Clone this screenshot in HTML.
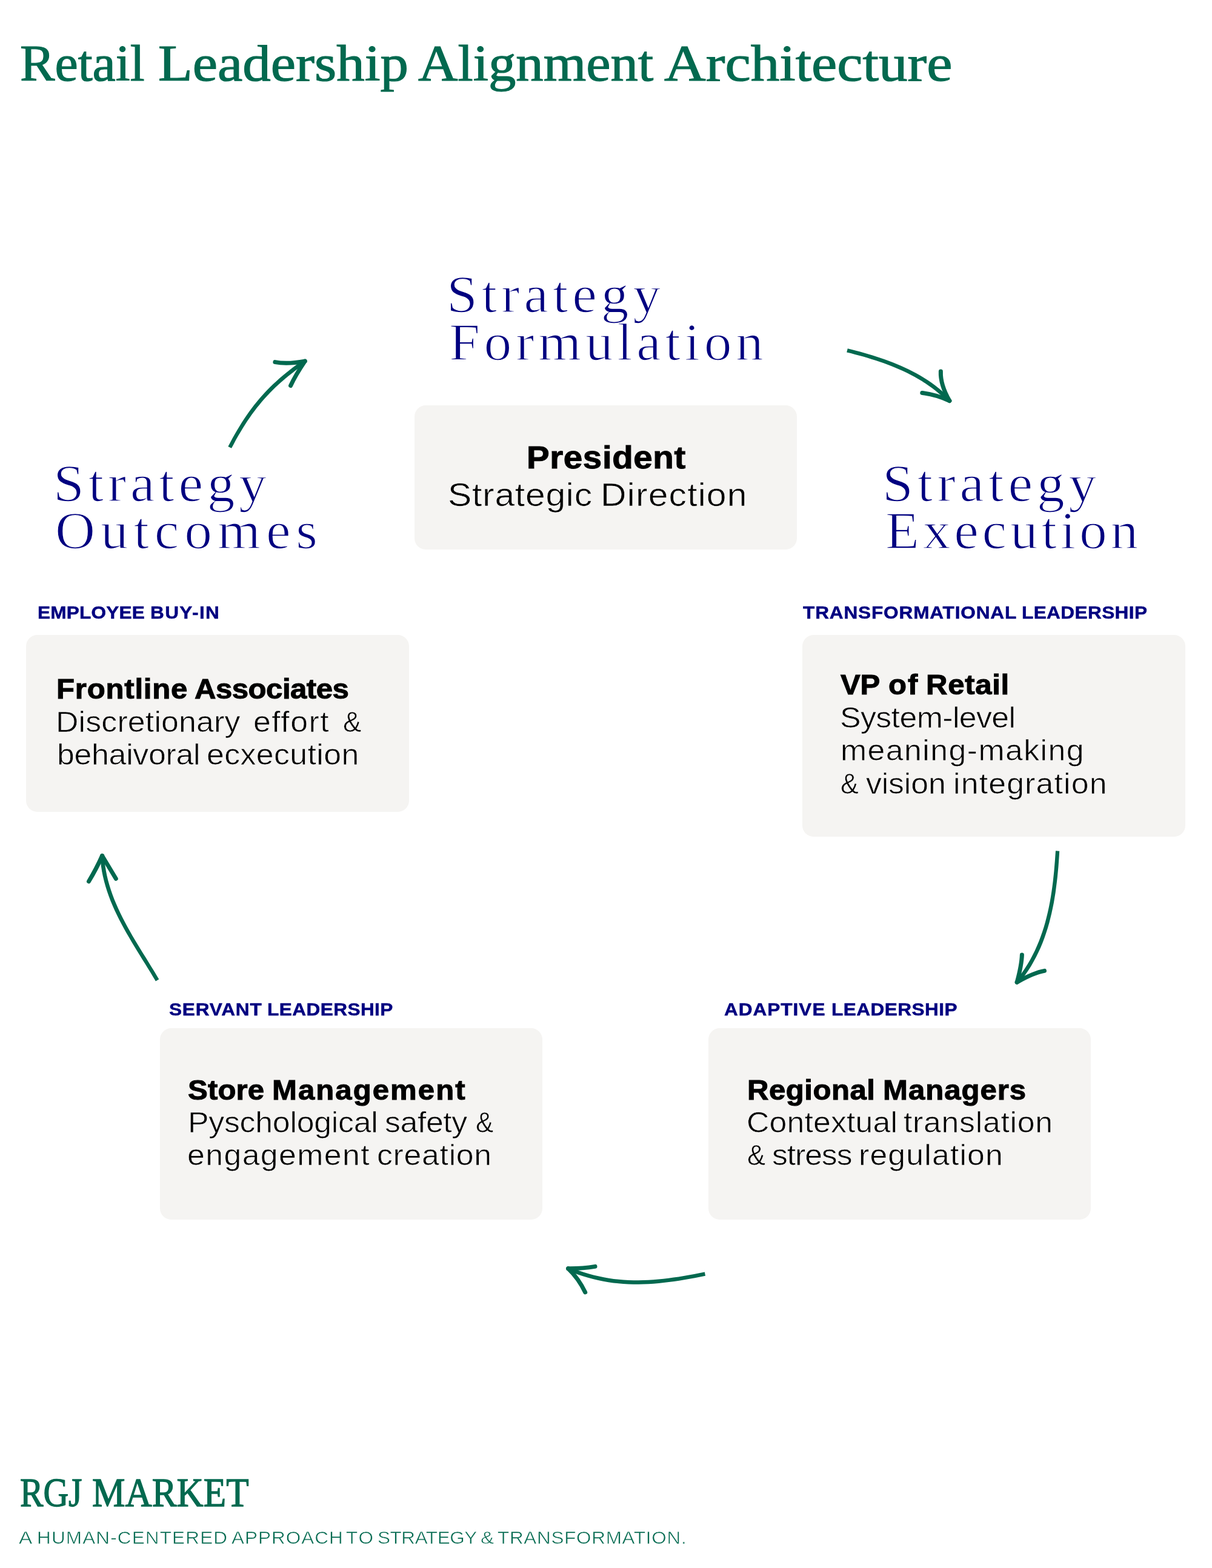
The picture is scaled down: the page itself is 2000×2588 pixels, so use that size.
<!DOCTYPE html>
<html lang="en">
<head>
<meta charset="utf-8">
<title>Retail Leadership Alignment Architecture</title>
<style>
*{margin:0;padding:0;box-sizing:border-box}
html,body{width:2000px;height:2588px;background:#fff}
body{position:relative;font-family:"Liberation Sans",sans-serif;color:#000}
.page{position:absolute;left:0;top:0;width:2000px;height:2588px;background:#fff;overflow:hidden;will-change:transform}
h1,h2,h3,p,.ln{font-weight:400;font-size:0;line-height:0}
.w{position:absolute;display:block;white-space:pre;transform-origin:0 0}
.serif{font-family:"Liberation Serif",serif}
.sans{font-family:"Liberation Sans",sans-serif}
.b .w{font-weight:700}
.green{color:#02694f}.navy{color:#000080}.black{color:#000000}
.box{position:absolute;background:#f5f4f2;border-radius:18.5px}
svg.arrows{position:absolute;left:0;top:0;width:2000px;height:2588px;pointer-events:none}
svg.arrows .shaft{fill:#02694f;stroke:none}
svg.arrows .barb{fill:none;stroke:#02694f;stroke-width:7.0;stroke-linecap:round;stroke-linejoin:round}
#bx-p{left:684.0px;top:668.8px;width:631.4px;height:238.2px}
#bx-f{left:43.3px;top:1047.6px;width:631.8px;height:292.0px}
#bx-v{left:1324.3px;top:1047.6px;width:631.7px;height:333.7px}
#bx-s{left:263.8px;top:1696.7px;width:631.4px;height:316.3px}
#bx-r{left:1168.9px;top:1696.7px;width:631.4px;height:316.3px}
#title .w{font-size:84.15px;line-height:101px;-webkit-text-stroke:1.2px #02694f;}
#titlew1{left:33.2px;top:54px;transform:scaleX(1.0233);}
#titlew2{left:260.6px;top:54px;transform:scaleX(1.1049);}
#titlew3{left:690.2px;top:54px;transform:scaleX(1.0784);}
#titlew4{left:1096.0px;top:54px;transform:scaleX(1.1309);}
#sf1 .w{font-size:86.44px;line-height:104px;-webkit-text-stroke:1.6px #ffffff;}
#sf1w1{left:736.5px;top:434px;letter-spacing:6.46px;transform:scaleX(1.0600);}
#sf2 .w{font-size:86.44px;line-height:104px;-webkit-text-stroke:1.6px #ffffff;}
#sf2w1{left:741.3px;top:513px;letter-spacing:6.21px;transform:scaleX(1.0600);}
#so1 .w{font-size:86.44px;line-height:104px;-webkit-text-stroke:1.6px #ffffff;}
#so1w1{left:87.7px;top:746px;letter-spacing:6.30px;transform:scaleX(1.0600);}
#so2 .w{font-size:86.44px;line-height:104px;-webkit-text-stroke:1.6px #ffffff;}
#so2w1{left:91.3px;top:824px;letter-spacing:8.29px;transform:scaleX(1.0600);}
#se1 .w{font-size:86.44px;line-height:104px;-webkit-text-stroke:1.6px #ffffff;}
#se1w1{left:1455.9px;top:746px;letter-spacing:6.48px;transform:scaleX(1.0600);}
#se2 .w{font-size:86.44px;line-height:104px;-webkit-text-stroke:1.6px #ffffff;}
#se2w1{left:1460.8px;top:824px;letter-spacing:5.40px;transform:scaleX(1.0600);}
#l1 .w{font-size:29.22px;line-height:35px;-webkit-text-stroke:0.5px #000080;}
#l1w1{left:61.5px;top:994px;letter-spacing:0.18px;transform:scaleX(1.0800);}
#l1w2{left:247.8px;top:994px;letter-spacing:1.27px;transform:scaleX(1.0800);}
#l2 .w{font-size:29.22px;line-height:35px;-webkit-text-stroke:0.5px #000080;}
#l2w1{left:1324.7px;top:994px;letter-spacing:0.79px;transform:scaleX(1.0800);}
#l2w2{left:1685.7px;top:994px;letter-spacing:0.37px;transform:scaleX(1.0800);}
#l3 .w{font-size:29.22px;line-height:35px;-webkit-text-stroke:0.5px #000080;}
#l3w1{left:279.2px;top:1649px;letter-spacing:0.74px;transform:scaleX(1.0800);}
#l3w2{left:440.7px;top:1649px;letter-spacing:0.41px;transform:scaleX(1.0800);}
#l4 .w{font-size:29.22px;line-height:35px;-webkit-text-stroke:0.5px #000080;}
#l4w1{left:1195.0px;top:1649px;letter-spacing:0.91px;transform:scaleX(1.0800);}
#l4w2{left:1371.6px;top:1649px;letter-spacing:0.43px;transform:scaleX(1.0800);}
#p1 .w{font-size:52.33px;line-height:63px;-webkit-text-stroke:1px #000000;}
#p1w1{left:868.5px;top:724px;letter-spacing:0.54px;transform:scaleX(1.0800);}
#p2 .w{font-size:54.51px;line-height:65px;-webkit-text-stroke:0.7px #f5f4f2;}
#p2w1{left:739.2px;top:784px;letter-spacing:0.67px;transform:scaleX(1.0800);}
#p2w2{left:991.3px;top:784px;letter-spacing:1.07px;transform:scaleX(1.0800);}
#f1 .w{font-size:45.49px;line-height:55px;-webkit-text-stroke:1px #000000;}
#f1w1{left:92.8px;top:1110px;letter-spacing:0.73px;transform:scaleX(1.0800);}
#f1w2{left:320.9px;top:1110px;letter-spacing:-0.47px;transform:scaleX(1.0800);}
#f2 .w{font-size:47.97px;line-height:58px;-webkit-text-stroke:0.7px #f5f4f2;}
#f2w1{left:92.0px;top:1163px;letter-spacing:0.16px;transform:scaleX(1.0800);}
#f2w2{left:417.6px;top:1163px;letter-spacing:1.40px;transform:scaleX(1.0800);}
#f2w3{left:566.3px;top:1163px;transform:scaleX(0.9512);}
#f3 .w{font-size:47.97px;line-height:58px;-webkit-text-stroke:0.7px #f5f4f2;}
#f3w1{left:93.6px;top:1217px;letter-spacing:-0.26px;transform:scaleX(1.0800);}
#f3w2{left:340.5px;top:1217px;letter-spacing:0.37px;transform:scaleX(1.0800);}
#v1 .w{font-size:45.49px;line-height:55px;-webkit-text-stroke:1px #000000;}
#v1w1{left:1387.3px;top:1103px;letter-spacing:-0.28px;transform:scaleX(1.0800);}
#v1w2{left:1466.3px;top:1103px;letter-spacing:1.88px;transform:scaleX(1.0800);}
#v1w3{left:1527.7px;top:1103px;letter-spacing:0.62px;transform:scaleX(1.0800);}
#v2 .w{font-size:47.97px;line-height:58px;-webkit-text-stroke:0.7px #f5f4f2;}
#v2w1{left:1385.7px;top:1156px;letter-spacing:-0.54px;transform:scaleX(1.0800);}
#v3 .w{font-size:47.97px;line-height:58px;-webkit-text-stroke:0.7px #f5f4f2;}
#v3w1{left:1387.4px;top:1210px;letter-spacing:1.32px;transform:scaleX(1.0800);}
#v4 .w{font-size:47.97px;line-height:58px;-webkit-text-stroke:0.7px #f5f4f2;}
#v4w1{left:1387.2px;top:1265px;transform:scaleX(0.9306);}
#v4w2{left:1429.1px;top:1265px;letter-spacing:-0.14px;transform:scaleX(1.0800);}
#v4w3{left:1572.5px;top:1265px;letter-spacing:1.07px;transform:scaleX(1.0800);}
#s1 .w{font-size:45.49px;line-height:55px;-webkit-text-stroke:1px #000000;}
#s1w1{left:310.4px;top:1772px;letter-spacing:0.13px;transform:scaleX(1.0800);}
#s1w2{left:449.4px;top:1772px;letter-spacing:1.88px;transform:scaleX(1.0800);}
#s2 .w{font-size:47.97px;line-height:58px;-webkit-text-stroke:0.7px #f5f4f2;}
#s2w1{left:310.0px;top:1824px;letter-spacing:-0.23px;transform:scaleX(1.0800);}
#s2w2{left:635.0px;top:1824px;letter-spacing:-0.37px;transform:scaleX(1.0800);}
#s2w3{left:785.1px;top:1824px;transform:scaleX(0.9169);}
#s3 .w{font-size:47.97px;line-height:58px;-webkit-text-stroke:0.7px #f5f4f2;}
#s3w1{left:309.4px;top:1878px;letter-spacing:1.30px;transform:scaleX(1.0800);}
#s3w2{left:621.5px;top:1878px;letter-spacing:0.64px;transform:scaleX(1.0800);}
#r1 .w{font-size:45.49px;line-height:55px;-webkit-text-stroke:1px #000000;}
#r1w1{left:1233.1px;top:1772px;letter-spacing:0.47px;transform:scaleX(1.0800);}
#r1w2{left:1457.0px;top:1772px;letter-spacing:0.89px;transform:scaleX(1.0800);}
#r2 .w{font-size:47.97px;line-height:58px;-webkit-text-stroke:0.7px #f5f4f2;}
#r2w1{left:1232.2px;top:1824px;letter-spacing:0.13px;transform:scaleX(1.0800);}
#r2w2{left:1491.0px;top:1824px;letter-spacing:0.65px;transform:scaleX(1.0800);}
#r3 .w{font-size:47.97px;line-height:58px;-webkit-text-stroke:0.7px #f5f4f2;}
#r3w1{left:1233.4px;top:1878px;transform:scaleX(0.9375);}
#r3w2{left:1274.0px;top:1878px;letter-spacing:-1.04px;transform:scaleX(1.0800);}
#r3w3{left:1417.2px;top:1878px;letter-spacing:1.06px;transform:scaleX(1.0800);}
#brand .w{font-size:66.74px;line-height:80px;-webkit-text-stroke:1.3px #02694f;}
#brandw1{left:32.6px;top:2424px;transform:scaleX(0.8638);}
#brandw2{left:151.9px;top:2424px;transform:scaleX(0.9178);}
#tag .w{font-size:30.23px;line-height:36px;-webkit-text-stroke:0.6px #ffffff;}
#tagw1{left:31.1px;top:2520px;transform:scaleX(1.1078);}
#tagw2{left:60.7px;top:2520px;letter-spacing:1.14px;transform:scaleX(1.0400);}
#tagw3{left:381.7px;top:2520px;letter-spacing:1.02px;transform:scaleX(1.0400);}
#tagw4{left:571.0px;top:2520px;letter-spacing:1.88px;transform:scaleX(1.0400);}
#tagw5{left:622.7px;top:2520px;letter-spacing:-0.39px;transform:scaleX(1.0400);}
#tagw6{left:792.7px;top:2520px;transform:scaleX(1.1045);}
#tagw7{left:820.6px;top:2520px;letter-spacing:0.70px;transform:scaleX(1.0400);}
</style>
</head>
<body>
<main class="page">
<header><h1 id="title" class="ln serif green"><span id="titlew1" class="w">Retail</span> <span id="titlew2" class="w">Leadership</span> <span id="titlew3" class="w">Alignment</span> <span id="titlew4" class="w">Architecture</span></h1></header>
<section class="cycle">
<svg class="arrows" viewBox="0 0 2000 2588" aria-hidden="true">
<path class="shaft" d="M382.0 739.8 L385.7 732.9 L389.3 726.1 L393.0 719.6 L396.8 713.2 L400.5 707.0 L404.3 701.0 L408.1 695.1 L412.0 689.4 L415.9 683.8 L419.9 678.4 L424.0 673.1 L428.2 667.9 L432.4 662.8 L436.8 657.8 L441.2 653.0 L445.7 648.2 L450.4 643.5 L455.2 638.8 L460.1 634.2 L465.2 629.7 L470.4 625.2 L475.8 620.8 L481.3 616.4 L487.0 612.0 L492.8 607.6 L498.9 603.2 L505.1 598.9 L501.3 593.3 L495.0 597.8 L488.9 602.2 L482.9 606.7 L477.2 611.2 L471.6 615.7 L466.1 620.2 L460.8 624.8 L455.7 629.4 L450.7 634.1 L445.8 638.8 L441.1 643.6 L436.4 648.5 L431.9 653.5 L427.5 658.6 L423.2 663.8 L418.9 669.1 L414.8 674.5 L410.7 680.1 L406.7 685.7 L402.8 691.6 L398.9 697.5 L395.1 703.7 L391.3 710.0 L387.5 716.4 L383.8 723.1 L380.1 729.9 L376.4 737.0Z"/>
<path class="barb" d="M503.2 596.1 Q473.7 601.6 453.9 597.6"/>
<path class="barb" d="M503.2 596.1 Q487.4 619.5 479.6 636.5"/>
<path class="shaft" d="M1397.2 581.4 L1404.0 583.1 L1410.8 584.9 L1417.6 586.7 L1424.4 588.6 L1431.1 590.6 L1437.9 592.7 L1444.6 594.8 L1451.3 597.0 L1458.0 599.3 L1464.6 601.8 L1471.1 604.3 L1477.7 606.9 L1484.1 609.7 L1490.5 612.6 L1496.8 615.6 L1503.0 618.8 L1509.2 622.0 L1515.2 625.5 L1521.2 629.1 L1527.0 632.8 L1532.7 636.7 L1538.4 640.8 L1543.9 645.0 L1549.2 649.5 L1554.4 654.1 L1559.5 658.9 L1564.5 663.9 L1569.3 659.3 L1564.2 654.1 L1558.9 649.2 L1553.5 644.4 L1548.0 639.9 L1542.3 635.5 L1536.5 631.3 L1530.6 627.3 L1524.6 623.5 L1518.5 619.8 L1512.3 616.3 L1506.0 613.0 L1499.7 609.8 L1493.2 606.7 L1486.7 603.8 L1480.1 601.0 L1473.5 598.3 L1466.8 595.7 L1460.1 593.3 L1453.4 590.9 L1446.6 588.7 L1439.8 586.6 L1432.9 584.5 L1426.1 582.5 L1419.3 580.6 L1412.4 578.7 L1405.6 577.0 L1398.8 575.2Z"/>
<path class="barb" d="M1566.9 661.6 Q1551.5 634.9 1552.4 613.0"/>
<path class="barb" d="M1566.9 661.6 Q1545.7 651.5 1521.8 648.5"/>
<path class="shaft" d="M1742.0 1404.3 L1741.4 1412.7 L1740.8 1421.2 L1740.1 1429.6 L1739.4 1438.1 L1738.5 1446.6 L1737.6 1455.1 L1736.5 1463.5 L1735.3 1471.9 L1734.0 1480.3 L1732.5 1488.7 L1730.9 1497.0 L1729.1 1505.3 L1727.1 1513.5 L1725.0 1521.7 L1722.7 1529.8 L1720.1 1537.8 L1717.3 1545.7 L1714.4 1553.6 L1711.1 1561.3 L1707.7 1569.0 L1703.9 1576.5 L1700.0 1583.9 L1695.7 1591.2 L1691.1 1598.4 L1686.3 1605.4 L1681.1 1612.3 L1675.6 1619.0 L1680.8 1623.4 L1686.4 1616.4 L1691.7 1609.3 L1696.7 1602.0 L1701.4 1594.7 L1705.7 1587.1 L1709.8 1579.5 L1713.6 1571.8 L1717.2 1563.9 L1720.5 1556.0 L1723.5 1548.0 L1726.3 1539.8 L1728.9 1531.7 L1731.3 1523.4 L1733.4 1515.1 L1735.4 1506.7 L1737.2 1498.3 L1738.9 1489.9 L1740.3 1481.4 L1741.7 1472.9 L1742.8 1464.3 L1743.9 1455.8 L1744.9 1447.3 L1745.7 1438.7 L1746.5 1430.2 L1747.1 1421.7 L1747.7 1413.2 L1748.2 1404.7Z"/>
<path class="barb" d="M1678.2 1621.2 Q1685.9 1592.4 1686.4 1576.0"/>
<path class="barb" d="M1678.2 1621.2 Q1705.8 1605.4 1723.5 1602.4"/>
<path class="shaft" d="M1162.8 2099.5 L1154.0 2101.3 L1145.4 2103.0 L1136.8 2104.5 L1128.3 2106.0 L1119.8 2107.4 L1111.4 2108.6 L1103.0 2109.8 L1094.7 2110.7 L1086.4 2111.6 L1078.1 2112.3 L1069.9 2112.8 L1061.7 2113.1 L1053.5 2113.2 L1045.4 2113.2 L1037.2 2112.9 L1029.1 2112.5 L1020.9 2111.8 L1012.8 2110.9 L1004.7 2109.7 L996.5 2108.3 L988.4 2106.6 L980.2 2104.7 L972.0 2102.5 L963.8 2100.0 L955.5 2097.2 L947.3 2094.0 L938.9 2090.6 L936.3 2096.8 L944.8 2100.3 L953.3 2103.4 L961.8 2106.3 L970.2 2108.8 L978.6 2111.1 L987.0 2113.1 L995.3 2114.8 L1003.7 2116.2 L1012.0 2117.4 L1020.3 2118.3 L1028.6 2119.0 L1036.9 2119.5 L1045.2 2119.7 L1053.6 2119.7 L1061.9 2119.6 L1070.2 2119.2 L1078.6 2118.7 L1087.0 2118.0 L1095.4 2117.1 L1103.8 2116.1 L1112.3 2115.0 L1120.8 2113.7 L1129.3 2112.3 L1137.9 2110.8 L1146.6 2109.2 L1155.3 2107.5 L1164.0 2105.7Z"/>
<path class="barb" d="M937.6 2093.7 Q961.2 2093.9 982.0 2090.4"/>
<path class="barb" d="M937.6 2093.7 Q954.5 2109.7 965.7 2132.9"/>
<path class="shaft" d="M262.3 1616.3 L258.1 1609.2 L253.8 1602.0 L249.4 1594.9 L245.0 1587.7 L240.6 1580.6 L236.1 1573.4 L231.7 1566.2 L227.3 1558.9 L222.9 1551.7 L218.6 1544.4 L214.4 1537.0 L210.3 1529.7 L206.3 1522.3 L202.4 1514.8 L198.7 1507.3 L195.2 1499.7 L191.8 1492.1 L188.6 1484.5 L185.7 1476.7 L183.0 1469.0 L180.5 1461.1 L178.3 1453.2 L176.4 1445.2 L174.8 1437.1 L173.5 1428.9 L172.5 1420.7 L171.9 1412.3 L165.3 1412.7 L165.9 1421.3 L166.9 1429.8 L168.2 1438.3 L169.9 1446.6 L171.9 1454.8 L174.2 1463.0 L176.7 1471.0 L179.5 1479.0 L182.5 1486.9 L185.8 1494.7 L189.2 1502.5 L192.8 1510.1 L196.6 1517.8 L200.6 1525.3 L204.6 1532.8 L208.8 1540.2 L213.1 1547.6 L217.4 1555.0 L221.8 1562.3 L226.2 1569.5 L230.7 1576.7 L235.1 1583.9 L239.6 1591.1 L244.0 1598.2 L248.4 1605.3 L252.7 1612.4 L256.9 1619.5Z"/>
<path class="barb" d="M168.6 1412.5 Q159.6 1432.9 146.5 1454.8"/>
<path class="barb" d="M168.6 1412.5 Q180.1 1431.6 191.3 1450.3"/>
</svg>
<article class="stage">
<hgroup><h2 id="sf1" class="ln serif navy"><span id="sf1w1" class="w">Strategy</span></h2><h2 id="sf2" class="ln serif navy"><span id="sf2w1" class="w">Formulation</span></h2></hgroup>
<div id="bx-p" class="box"></div>
<div class="card"><p id="p1" class="ln sans black b"><span id="p1w1" class="w">President</span></p><p id="p2" class="ln sans black"><span id="p2w1" class="w">Strategic</span> <span id="p2w2" class="w">Direction</span></p></div>
</article>
<article class="stage">
<hgroup><h2 id="se1" class="ln serif navy"><span id="se1w1" class="w">Strategy</span></h2><h2 id="se2" class="ln serif navy"><span id="se2w1" class="w">Execution</span></h2></hgroup>
<h3 id="l2" class="ln sans navy b"><span id="l2w1" class="w">TRANSFORMATIONAL</span> <span id="l2w2" class="w">LEADERSHIP</span></h3>
<div id="bx-v" class="box"></div>
<div class="card"><p id="v1" class="ln sans black b"><span id="v1w1" class="w">VP</span> <span id="v1w2" class="w">of</span> <span id="v1w3" class="w">Retail</span></p><p id="v2" class="ln sans black"><span id="v2w1" class="w">System-level</span></p><p id="v3" class="ln sans black"><span id="v3w1" class="w">meaning-making</span></p><p id="v4" class="ln sans black"><span id="v4w1" class="w">&amp;</span> <span id="v4w2" class="w">vision</span> <span id="v4w3" class="w">integration</span></p></div>
</article>
<article class="stage">
<h3 id="l4" class="ln sans navy b"><span id="l4w1" class="w">ADAPTIVE</span> <span id="l4w2" class="w">LEADERSHIP</span></h3>
<div id="bx-r" class="box"></div>
<div class="card"><p id="r1" class="ln sans black b"><span id="r1w1" class="w">Regional</span> <span id="r1w2" class="w">Managers</span></p><p id="r2" class="ln sans black"><span id="r2w1" class="w">Contextual</span> <span id="r2w2" class="w">translation</span></p><p id="r3" class="ln sans black"><span id="r3w1" class="w">&amp;</span> <span id="r3w2" class="w">stress</span> <span id="r3w3" class="w">regulation</span></p></div>
</article>
<article class="stage">
<h3 id="l3" class="ln sans navy b"><span id="l3w1" class="w">SERVANT</span> <span id="l3w2" class="w">LEADERSHIP</span></h3>
<div id="bx-s" class="box"></div>
<div class="card"><p id="s1" class="ln sans black b"><span id="s1w1" class="w">Store</span> <span id="s1w2" class="w">Management</span></p><p id="s2" class="ln sans black"><span id="s2w1" class="w">Pyschological</span> <span id="s2w2" class="w">safety</span> <span id="s2w3" class="w">&amp;</span></p><p id="s3" class="ln sans black"><span id="s3w1" class="w">engagement</span> <span id="s3w2" class="w">creation</span></p></div>
</article>
<article class="stage">
<hgroup><h2 id="so1" class="ln serif navy"><span id="so1w1" class="w">Strategy</span></h2><h2 id="so2" class="ln serif navy"><span id="so2w1" class="w">Outcomes</span></h2></hgroup>
<h3 id="l1" class="ln sans navy b"><span id="l1w1" class="w">EMPLOYEE</span> <span id="l1w2" class="w">BUY-IN</span></h3>
<div id="bx-f" class="box"></div>
<div class="card"><p id="f1" class="ln sans black b"><span id="f1w1" class="w">Frontline</span> <span id="f1w2" class="w">Associates</span></p><p id="f2" class="ln sans black"><span id="f2w1" class="w">Discretionary</span> <span id="f2w2" class="w">effort</span> <span id="f2w3" class="w">&amp;</span></p><p id="f3" class="ln sans black"><span id="f3w1" class="w">behaivoral</span> <span id="f3w2" class="w">ecxecution</span></p></div>
</article>
</section>
<footer><div id="brand" class="ln serif green"><span id="brandw1" class="w">RGJ</span> <span id="brandw2" class="w">MARKET</span></div><div id="tag" class="ln sans green"><span id="tagw1" class="w">A</span> <span id="tagw2" class="w">HUMAN-CENTERED</span> <span id="tagw3" class="w">APPROACH</span> <span id="tagw4" class="w">TO</span> <span id="tagw5" class="w">STRATEGY</span> <span id="tagw6" class="w">&amp;</span> <span id="tagw7" class="w">TRANSFORMATION.</span></div></footer>
</main>
</body>
</html>
